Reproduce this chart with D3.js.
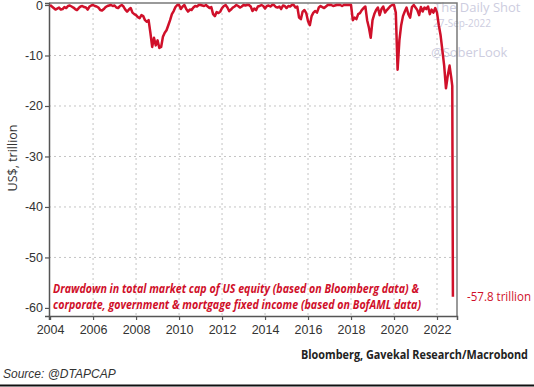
<!DOCTYPE html>
<meta charset="utf-8">
<head>
    <title>Drawdown</title>
    <script src="https://cdn.jsdelivr.net/npm/d3@7"></script>
</head>

<style>
    body { margin: 0; background: #fff; }
    svg { display: block; font-family: "Open Sans", sans-serif; }
    .grid line { stroke: #c4c4c4; stroke-dasharray: 2,3; }
    .axis text { fill: #333; font-size: 12.5px; }
</style>

<svg></svg>

<script>
    // data (monthly drawdown, US$ trillion, from Jan 2004)
    var startYear = 2004;
    var drawdown = [
        0, -0.3, -0.6, -0.9, -0.7, -0.5, -0.9, -0.8, -0.4, -0.6, -0.2, -0.1,
        -0.3, -0.5, -0.8, -1.0, -0.6, -0.3, -0.2, -0.4, -0.5, -0.9, -0.3, -0.1,
        0, -0.2, -0.3, -0.5, -1.0, -1.1, -0.8, -0.4, -0.2, -0.1, 0, -0.2,
        -0.1, -0.5, -0.6, -0.2, 0, -0.3, -0.9, -1.3, -0.9, -0.6, -1.5, -1.8,
        -2.0, -2.4, -2.6, -2.0, -2.2, -3.0, -3.3, -3.0, -5.5, -8.3, -6.5, -8.0,
        -7.0, -8.5, -8.3, -6.3, -5.5, -5.0, -4.0, -3.0, -1.8, -1.2, -0.4, 0,
        0, -0.8, -0.3, 0, -0.8, -1.3, -0.9, -1.0, -0.5, -0.2, -0.3, 0,
        0, -0.1, -0.2, 0, -0.3, -0.6, -0.4, -1.8, -2.2, -1.4, -1.6, -1.3,
        -0.6, -0.2, 0, -0.5, -1.2, -0.9, -0.5, -0.3, 0, -0.2, -0.5, -0.3,
        0, -0.1, 0, 0, -0.3, -1.2, -0.7, -1.0, -0.3, -0.2, 0, -0.2,
        -0.7, -0.2, -0.1, -0.3, 0, 0, -0.4, -0.5, -0.3, -0.8, -0.1, -0.2,
        -0.6, -0.2, -0.3, 0, 0, -0.5, -0.3, -2.5, -2.8, -1.3, -1.0, -1.6,
        -3.2, -4.0, -2.2, -1.5, -1.2, -1.5, -0.5, -0.2, -0.4, -0.6, -0.3, 0,
        0, 0, -0.2, -0.1, 0, 0, 0, -0.2, 0, 0, 0, 0,
        0, -3.0, -2.5, -2.8, -1.8, -1.6, -1.0, -0.6, -0.3, -3.0, -4.5, -6.5,
        -3.0, -1.8, -1.0, -0.5, -2.0, -0.8, -0.3, -1.5, -1.0, -0.6, -0.2, 0,
        0, -1.5, -12.8, -7.0, -4.0, -2.2, -1.3, -0.5, -1.8, -2.5, -0.4, 0,
        -0.5, -1.0, -2.0, -0.4, -1.3, -0.5, -0.8, -0.3, -1.8, -0.9, -1.5, -0.6,
        -1.5, -4.0, -6.0, -9.0, -12.0, -16.5, -14.0, -12.0, -14.5
    ];
    var tailDates = [2022.71, 2022.74];
    var tailValues = [-16.0, -57.8];

    var xTicks = [2004, 2006, 2008, 2010, 2012, 2014, 2016, 2018, 2020, 2022];
    var yTicks = [0, -10, -20, -30, -40, -50, -60];

    var width = 534, height = 387;
    var red = "#d0102a";

    var points = drawdown.map(function (v, i) { return [startYear + i / 12, v]; })
        .concat(tailDates.map(function (d, i) { return [d, tailValues[i]]; }));

    var svg = d3.select("svg").attr("width", width).attr("height", height);

    var x = d3.scaleLinear().domain([2003.95, 2022.93]).range([49, 457]);
    var y = d3.scaleLinear().domain([0.4, -61.6]).range([3, 316]);

    // grid
    svg.append("g").attr("class", "grid")
        .selectAll("line").data(xTicks.slice(1)).enter().append("line")
        .attr("x1", function (d) { return x(d); }).attr("x2", function (d) { return x(d); })
        .attr("y1", 3).attr("y2", 316);
    svg.append("g").attr("class", "grid")
        .selectAll("line").data(yTicks.slice(1, 6)).enter().append("line")
        .attr("x1", 49).attr("x2", 457)
        .attr("y1", function (d) { return y(d); }).attr("y2", function (d) { return y(d); });

    // watermark
    var wm = svg.append("g").attr("fill", "#cdcde0");
    wm.append("text").attr("x", 434).attr("y", 12).attr("font-size", 13).text("The Daily Shot");
    wm.append("text").attr("x", 433).attr("y", 27).attr("font-size", 10).text("27-Sep-2022");
    wm.append("text").attr("x", 431).attr("y", 57).attr("font-size", 13).text("@SoberLook");

    // frame
    svg.append("path").attr("d", "M49,3H457V316").attr("fill", "none")
        .attr("stroke", "#7a7a7a").attr("stroke-width", 1.5);

    // axes
    svg.append("g").attr("class", "axis")
        .attr("transform", "translate(0,316)")
        .call(d3.axisBottom(x).tickValues(xTicks).tickFormat(String).tickSize(4).tickPadding(5));
    svg.append("g").attr("class", "axis")
        .attr("transform", "translate(49,0)")
        .call(d3.axisLeft(y).tickValues(yTicks).tickFormat(String).tickSize(4).tickPadding(2));
    svg.selectAll(".axis .domain").attr("stroke", "#555").attr("stroke-width", 1.5);
    svg.selectAll(".axis .tick line").attr("stroke", "#555").attr("stroke-width", 1.2);

    svg.append("text")
        .attr("transform", "translate(17,158) rotate(-90)")
        .attr("text-anchor", "middle").attr("font-size", 12.5).attr("fill", "#333")
        .text("US$, trillion");

    // series
    var line = d3.line()
        .x(function (d) { return x(d[0]); })
        .y(function (d) { return y(d[1]); });
    svg.append("path").datum(points)
        .attr("d", line).attr("fill", "none")
        .attr("stroke", red).attr("stroke-width", 2.5).attr("stroke-linejoin", "round");

    // annotations
    var note = svg.append("g").attr("fill", red).attr("font-size", 12)
        .attr("font-weight", "bold").attr("font-style", "italic");
    note.append("text").attr("x", 53).attr("y", 293)
        .attr("textLength", 366).attr("lengthAdjust", "spacingAndGlyphs")
        .text("Drawdown in total market cap of US equity (based on Bloomberg data) &");
    note.append("text").attr("x", 53).attr("y", 309)
        .attr("textLength", 368).attr("lengthAdjust", "spacingAndGlyphs")
        .text("corporate, government & mortgage fixed income (based on BofAML data)");

    svg.append("text").attr("x", 467).attr("y", 301)
        .attr("fill", red).attr("font-size", 12)
        .attr("textLength", 64).attr("lengthAdjust", "spacingAndGlyphs")
        .text("-57.8 trillion");

    svg.append("text").attr("x", 528).attr("y", 359)
        .attr("text-anchor", "end").attr("fill", "#222").attr("font-size", 12).attr("font-weight", "bold")
        .attr("textLength", 227).attr("lengthAdjust", "spacingAndGlyphs")
        .text("Bloomberg, Gavekal Research/Macrobond");

    svg.append("text").attr("x", 3).attr("y", 378)
        .attr("fill", "#333").attr("font-size", 12).attr("font-style", "italic")
        .style("font-family", "'Liberation Sans', Arial, sans-serif")
        .text("Source: @DTAPCAP");

    svg.append("line").attr("x1", 0).attr("x2", width).attr("y1", 385.5).attr("y2", 385.5)
        .attr("stroke", "#111").attr("stroke-width", 2);
</script>
